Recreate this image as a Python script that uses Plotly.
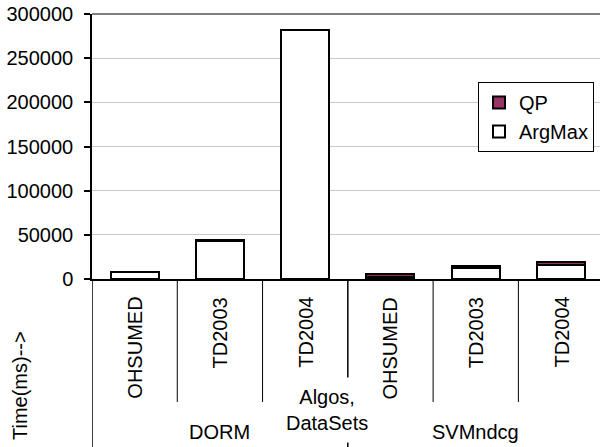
import plotly.graph_objects as go

# ---- data ----
groups = ["DORM", "DORM", "DORM", "SVMndcg", "SVMndcg", "SVMndcg"]
datasets = ["OHSUMED", "TD2003", "TD2004", "OHSUMED", "TD2003", "TD2004"]
argmax = [7500, 43500, 282000, 1800, 12800, 16000]
qp = [800, 300, 300, 3500, 1600, 2900]
group_names = ["DORM", "SVMndcg"]
y_ticks = [0, 50000, 100000, 150000, 200000, 250000, 300000]

FONT = "Liberation Sans, Arial, sans-serif"
idx = list(range(len(datasets)))

fig = go.Figure()
fig.add_trace(go.Bar(
    x=idx, y=argmax, name="ArgMax",
    marker=dict(color="white", line=dict(color="black", width=2)),
))
fig.add_trace(go.Bar(
    x=idx, y=qp, name="QP",
    marker=dict(color="#993366", line=dict(color="black", width=2)),
))

# plot geometry (px)
W, H = 600, 447
ml, mt, mb = 92, 14, 168
ph = H - mt - mb

def py(pix):
    """pixel y in figure -> paper y"""
    return (H - mb - pix) / ph

def px(pix):
    return (pix - ml) / (W - ml)

annotations = []
# inner category labels (rotated)
for i, d in enumerate(datasets):
    annotations.append(dict(
        x=i, xref="x", y=0, yref="paper", yanchor="top", xanchor="center",
        yshift=-16, text=d, textangle=-90, showarrow=False,
        font=dict(family=FONT, size=20, color="black")))
# group labels
n_per = len(datasets) // len(group_names)
for g, name in enumerate(group_names):
    annotations.append(dict(
        x=g * n_per + (n_per - 1) / 2, xref="x", y=py(432), yref="paper",
        yanchor="middle", xanchor="center", text=name, showarrow=False,
        font=dict(family=FONT, size=20, color="black")))
# x axis title
annotations.append(dict(
    x=n_per - 0.5, xref="x", xshift=-21, y=py(410), yref="paper",
    yanchor="middle", xanchor="center", text="Algos,<br>DataSets",
    showarrow=False, bgcolor="white", borderpad=8,
    font=dict(family=FONT, size=20, color="black")))
# y axis title
annotations.append(dict(
    x=px(20), xref="paper", y=py(386), yref="paper", yanchor="middle",
    xanchor="center", text="Time(ms)-->", textangle=-90, showarrow=False,
    font=dict(family=FONT, size=20, color="black")))

shapes = []
# short separators between datasets inside a group
for b in [0.5, 1.5, 3.5, 4.5]:
    shapes.append(dict(type="line", xref="x", yref="paper", x0=b, x1=b,
                       y0=0, y1=py(402), line=dict(color="black", width=1)))
# long separators between groups
for b in [-0.5, n_per - 0.5]:
    shapes.append(dict(type="line", xref="x", yref="paper", x0=b, x1=b,
                       y0=0, y1=py(447), line=dict(color="black", width=1.5)))
# plot-area top border
shapes.append(dict(type="line", xref="paper", yref="paper", x0=0, x1=1,
                   y0=1, y1=1, line=dict(color="#808080", width=2)))

fig.update_layout(
    width=W, height=H,
    margin=dict(l=ml, r=0, t=mt, b=mb, autoexpand=False),
    paper_bgcolor="white", plot_bgcolor="white",
    barmode="stack", bargap=0.4375,
    font=dict(family=FONT, size=20, color="black"),
    xaxis=dict(
        range=[-0.5, 5.457], showticklabels=False, ticks="",
        showgrid=False, zeroline=False, automargin=False,
        showline=True, linecolor="black", linewidth=1.5,
    ),
    yaxis=dict(
        range=[0, 300000], tickvals=y_ticks, ticktext=[str(v) for v in y_ticks],
        ticks="outside", ticklen=6, tickcolor="black", tickwidth=1.5,
        ticklabelstandoff=7, automargin=False,
        showline=True, linecolor="black", linewidth=1.5,
        showgrid=True, gridcolor="#c8c8c8", gridwidth=1,
        zeroline=False,
        tickfont=dict(family=FONT, size=20, color="black"),
    ),
    legend=dict(
        x=px(594), y=py(82), xanchor="right", yanchor="top",
        bgcolor="white", bordercolor="black", borderwidth=1,
        font=dict(family=FONT, size=20, color="black"),
        itemwidth=30, tracegroupgap=0,
    ),
    annotations=annotations,
    shapes=shapes,
)

fig.write_html(
    "out.html",
    config={"displayModeBar": False},
    post_script="document.body.style.margin='0';document.body.style.overflow='hidden';",
)
